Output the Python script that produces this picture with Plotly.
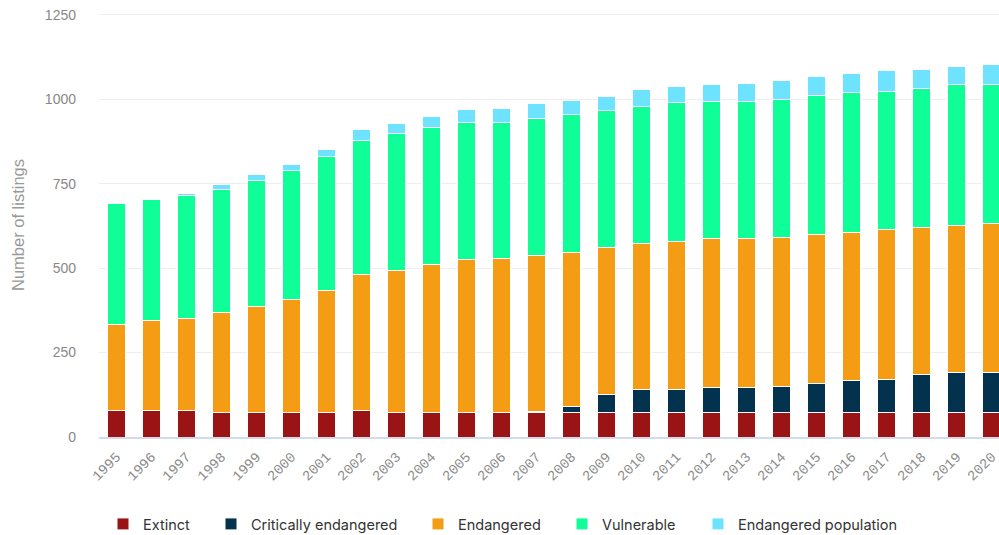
import plotly.graph_objects as go

years = [str(y) for y in range(1995, 2021)]

extinct = [77, 77, 77, 73, 73, 73, 73, 77, 73, 73, 73, 73, 73, 74, 73, 73, 73, 73, 73, 73, 73, 73, 73, 73, 73, 73]
critically_endangered = [0, 0, 0, 0, 0, 0, 0, 0, 0, 0, 0, 0, 2, 17, 52, 67, 69, 73, 73, 76, 86, 95, 98, 113, 117, 117]
endangered = [255, 267, 275, 296, 314, 335, 362, 405, 421, 438, 451, 455, 461, 456, 435, 433, 437, 441, 441, 441, 441, 436, 442, 435, 437, 441]
vulnerable = [358, 359, 364, 364, 371, 381, 395, 397, 403, 406, 406, 403, 408, 408, 407, 406, 412, 406, 406, 408, 411, 416, 411, 412, 415, 411]
endangered_population = [0, 0, 6, 14, 18, 17, 22, 30, 30, 31, 39, 41, 42, 40, 42, 51, 47, 49, 53, 56, 56, 56, 61, 56, 56, 61]

series_names = ["Extinct", "Critically endangered", "Endangered", "Vulnerable", "Endangered population"]
series_values = [extinct, critically_endangered, endangered, vulnerable, endangered_population]
series_colors = ["#9a1416", "#03324e", "#f39c14", "#10fe98", "#6de3ff"]

y_ticks = [0, 250, 500, 750, 1000, 1250]

FIG_W, FIG_H = 999, 535
legend_text_x = [143, 251, 458, 602, 738]  # pixels where each legend label starts

fig = go.Figure()
legend_layouts = {}
for i, (name, vals, color) in enumerate(zip(series_names, series_values, series_colors)):
    key = "legend" if i == 0 else f"legend{i+1}"
    fig.add_trace(go.Bar(
        x=years, y=vals, name=name, legend=key, showlegend=True,
        marker=dict(color=color, line=dict(color="white", width=1)),
    ))
    legend_layouts[key] = dict(
        orientation="h",
        xref="container", yref="container",
        x=(legend_text_x[i] - 40) / FIG_W, xanchor="left",
        y=(FIG_H - 524) / FIG_H, yanchor="middle",
        font=dict(family="Inter, Roboto, sans-serif", size=14.5, color="#333"),
        bgcolor="rgba(0,0,0,0)",
    )

fig.update_layout(
    barmode="stack",
    bargap=0.5,
    showlegend=True,
    width=FIG_W, height=FIG_H,
    margin=dict(l=99, r=0, t=13, b=98),
    plot_bgcolor="white",
    paper_bgcolor="white",
    font=dict(family="Liberation Sans, Arial, sans-serif", color="#888"),
    xaxis=dict(
        type="category",
        range=[-0.5, 25.21],
        tickangle=-45,
        tickfont=dict(family="Liberation Mono, Courier New, monospace", size=14, color="#8c8c8c"),
        ticklabelstandoff=4,
        ticklabeloverflow="allow",
        showgrid=False,
        showline=True, linecolor="#d3dbe8", linewidth=2,
        ticks="",
    ),
    yaxis=dict(
        range=[0, 1255],
        tickvals=y_ticks,
        ticktext=[str(v) for v in y_ticks],
        tickfont=dict(family="Liberation Sans, Arial, sans-serif", size=14, color="#888"),
        ticklabeloverflow="allow",
        gridcolor="#eeeeee", gridwidth=1,
        zeroline=False,
        ticklabelstandoff=22,
        title=dict(text="Number of listings", font=dict(family="Liberation Sans, Arial, sans-serif", size=16.5, color="#999"), standoff=16),
    ),
    **legend_layouts,
)

fig.write_html(
    "out.html",
    config={"displayModeBar": False},
    post_script="document.body.style.margin='0';document.documentElement.style.overflow='hidden';document.body.style.overflow='hidden';",
)
